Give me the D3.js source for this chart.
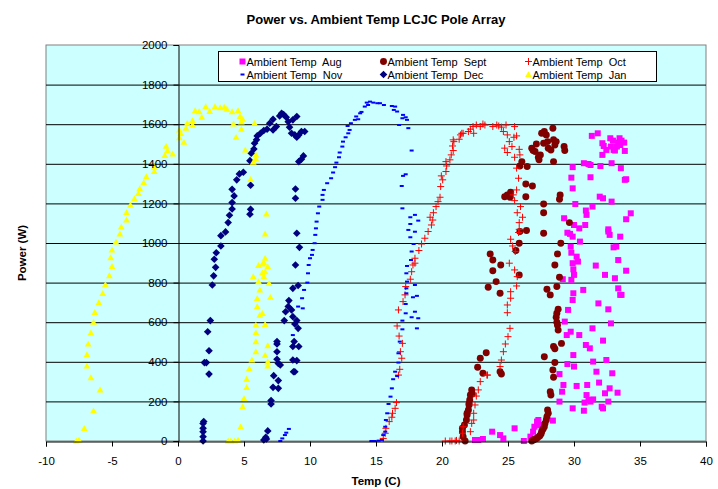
<!DOCTYPE html>
<html>
<head>
<meta charset="utf-8">
<script src="https://cdn.jsdelivr.net/npm/d3@7"></script>
<style>
  body { margin: 0; background: #fff; }
  text { font-family: "Liberation Sans", Arial, sans-serif; }
</style>
</head>
<body>
<div id="chart"></div>
<script>
// [temp C, power W]
var aug = [[22.5,5],[22.75,5],[23.1,10],[23.8,47],[24.4,30],[24.65,13],[25.5,64],[26.2,0],[26.7,22],[26.9,47],[27.0,72],[27.2,98],[27.3,106],[27.4,81],[27.55,64],[28.4,103],[28.9,199],[29.1,249],[29.2,283],[28.9,338],[29.5,389],[30.0,376],[29.95,434],[29.9,165],[30.75,153],[30.8,194],[30.95,232],[31.0,283],[31.1,207],[31.25,199],[31.45,210],[31.9,295],[31.7,350],[32.1,173],[32.2,165],[32.35,241],[32.45,409],[32.6,199],[32.7,266],[32.9,342],[33.3,244],[31.45,401],[30.2,278],
  [29.45,535],[29.75,552],[30.4,535],[30.9,485],[31.2,468],[31.4,569],[32.2,507],[32.8,594],[32.6,665],[31.85,695],[30.7,763],[29.95,746],[29.9,712],[29.55,662],[29.3,603],[29.15,817],[29.8,814],[30.0,839],[29.95,867],[29.9,898],[30.3,906],[30.2,931],[29.8,951],[29.75,982],[30.45,1007],[29.9,1032],[29.7,1046],[29.5,1052],[30.4,1074],[30.0,1091],[29.25,1125],[30.85,1091],[30.95,1142],[30.9,1164],[31.4,1184],[30.1,1197],[31.65,886],[32.35,839],[33.1,822],[33.35,771],[33.5,738],[33.6,738],[33.35,914],[33.2,982],[33.0,978],[33.95,860],[33.5,1032],[32.6,1058],[32.7,1041],[32.6,1069],[32.85,1209],[31.95,1234],[32.2,1226],[33.95,1120],[34.3,1150],[29.9,1276],[31.25,1332],[29.8,1330],[29.9,1383],[30.75,1403],[31.1,1399],[31.25,1394],[32.0,1389],[32.85,1403],[33.55,1378],[33.85,1319],[33.95,1322],[31.35,1541],[31.8,1554],[32.15,1504],[32.25,1490],[32.15,1445],[32.45,1470],[32.75,1529],[32.95,1517],[32.8,1487],[33.0,1470],[33.25,1487],[33.35,1507],[33.45,1529],[33.6,1517],[33.8,1507],[33.85,1465],[33.1,1467],[33.5,1495]];

var sept = [[21.75,0],[21.6,22],[21.55,47],[21.55,64],[21.7,81],[21.85,106],[21.9,131],[22.0,157],[22.05,182],[22.1,207],[22.15,232],[22.25,258],[22.05,190],[21.9,140],[22.3,237],
  [22.7,372],[22.9,418],[23.1,342],[23.35,446],[23.5,776],[23.65,945],[23.85,914],[23.85,860],[24.1,805],[24.4,746],[24.45,889],[24.5,338],[24.4,350],
  [24.75,1234],[24.95,1243],[25.15,1231],[25.2,1256],[25.85,839],[25.85,999],[25.6,962],[25.9,1058],[26.05,1411],[25.9,1389],[26.45,1386],[26.35,1298],[26.85,1288],[26.35,1234],[26.4,1063],
  [26.8,1479],[26.9,1467],[27.05,1462],[27.15,1500],[27.35,1420],[27.3,1433],[27.45,1445],[27.55,1554],[27.75,1563],[27.9,1546],[27.7,1504],[28.0,1512],[28.05,1479],[28.25,1470],[28.4,1580],[28.45,1521],[28.55,1495],[28.65,1512],[28.45,1411],[29.25,1487],[29.3,1467],[27.7,1197],[27.7,1153],[27.7,1049],[28.95,1243],[28.9,1221],[29.65,1103],[29.0,999],[28.75,945],[28.55,889],[28.9,827],[28.7,780],[27.95,766],[28.2,738],[28.8,665],[28.7,645],[28.65,625],[28.75,585],[28.8,560],[28.7,600],[29.05,493],[28.45,477],[28.55,466],[28.55,396],[27.75,426],[28.4,359],[28.45,322],[28.2,249],[28.25,232],
  [28.0,157],[28.05,140],[27.95,123],[27.9,106],[27.8,89],[27.75,72],[27.65,59],[27.55,47],[27.5,35],[27.4,25],[27.25,18],[27.15,13],[27.0,8],[26.9,5],[26.8,0]];

var oct = [[15.55,13],[15.7,39],[15.75,64],[16.0,98],[16.2,120],[16.25,140],[16.45,165],[16.55,194],[16.7,333],[16.8,362],[16.95,418],[16.85,451],[17.0,493],[16.75,530],[16.6,581],[16.7,662],[17.05,704],[17.2,738],[17.25,780],[17.6,817],[17.7,855],[17.8,889],[17.95,898],[17.95,923],[18.25,962],[18.45,995],[18.7,1024],[18.95,1058],[19.2,1091],[19.3,1116],[19.1,1130],[19.35,1153],[19.55,1184],[19.7,1209],[19.85,1231],[19.9,1285],[20.05,1319],[19.95,1339],[20.3,1361],[20.35,1389],[20.3,1411],[20.6,1420],[20.7,1445],[20.85,1467],[20.8,1490],[20.9,1512],[20.85,1521],[21.3,1524],[21.4,1546],[21.5,1554],[21.6,1554],[22.0,1563],[22.15,1575],[22.4,1554],[22.35,1588],[22.6,1596],[22.9,1588],[23.1,1601],[23.25,1596],[23.85,1588],[24.15,1596],[24.3,1591],[24.5,1585],[24.85,1596],[24.65,1563],[24.95,1546],[25.5,1588],[25.65,1541],[25.45,1534],[25.1,1512],[25.3,1487],[24.75,1479],[25.85,1473],[24.95,1457],[25.5,1433],[25.9,1445],[25.65,1378],[25.8,1327],[25.65,1268],[25.4,1243],[25.5,1214],[25.95,1184],[25.7,1153],[26.1,1130],[25.85,1103],[25.85,1069],[25.8,1053],[25.2,1019],[25.35,985],[25.55,957],[25.1,898],[25.5,864],[25.7,830],[25.65,783],[25.2,754],[25.2,721],[24.95,687],[24.95,648],[25.15,569],[25.0,527],[24.8,490],[24.65,451],[24.5,409],[24.4,376],[23.45,333],[23.4,333],[22.9,300],[22.75,258],[22.6,227],[22.5,182],[22.4,140],[22.4,106],[22.25,89],[22.15,47],[21.6,72],[21.55,39],[21.3,0],[21.0,0],[20.75,0],[20.6,0],[20.25,0],[21.1,3]];

var nov = [[7.75,0],[7.9,13],[8.1,30],[8.2,42],[8.4,61],[8.7,535],[9.1,679],[9.4,721],[9.45,670],[9.55,763],[9.8,800],[9.85,847],[9.9,889],[10.0,923],[10.15,940],[10.2,965],[10.35,999],[10.4,1041],[10.45,1074],[10.5,1108],[10.6,1150],[10.7,1184],[10.95,1218],[10.95,1243],[11.05,1268],[11.3,1302],[11.6,1327],[11.75,1356],[11.9,1383],[12.0,1406],[12.2,1433],[12.25,1457],[12.45,1487],[12.5,1512],[12.7,1534],[12.9,1554],[13.0,1571],[12.85,1591],[13.1,1605],[13.4,1622],[13.65,1625],[13.5,1639],[13.8,1655],[13.9,1662],[14.15,1689],[14.4,1697],[14.3,1709],[14.55,1714],[14.8,1709],[15.1,1706],[15.3,1706],[15.6,1697],[16.2,1692],[16.45,1689],[16.35,1672],[16.6,1664],[17.05,1647],[17.0,1630],[17.25,1635],[17.35,1622],[16.75,1596],[17.45,1580],[17.7,1467],[17.25,1347],[17.05,1339],[16.95,1288],[17.0,1175],[17.6,1130],[17.95,1142],[18.2,1113],[17.6,1096],[17.95,1057],[17.45,1066],[17.6,1029],[17.85,995],[17.7,957],[17.65,914],[17.35,884],[17.3,847],[17.35,805],[17.95,788],[17.3,771],[17.3,746],[17.8,726],[18.1,733],[17.25,692],[17.95,653],[17.25,645],[17.7,625],[18.2,620],[17.0,608],[17.0,564],[18.1,569],[16.8,502],[16.7,443],[16.7,396],[16.45,350],[16.6,328],[16.3,312],[16.2,266],[16.1,224],[15.95,187],[15.85,140],[15.75,106],[15.7,72],[15.55,30],[15.7,47],[14.65,0],[14.9,0],[15.2,2],[15.45,5]];

var dec = [[1.9,0],[1.9,22],[1.9,47],[1.9,64],[1.9,89],[1.95,98],[2.0,396],[2.15,396],[2.35,338],[2.25,552],[2.35,456],[2.45,608],[2.6,788],[2.7,834],[2.85,877],[2.75,918],[2.9,951],[3.25,985],[3.25,1037],[3.6,1056],[3.8,1103],[3.9,1140],[4.1,1172],[4.1,1204],[4.25,1238],[4.1,1271],[4.45,1319],[4.65,1349],[4.95,1357],[5.5,1292],[5.5,1170],[5.45,1145],[5.45,1416],[5.55,1453],[5.75,1475],[5.8,1504],[5.95,1521],[6.0,1541],[6.25,1554],[6.5,1568],[6.75,1575],[6.95,1605],[7.2,1625],[7.2,1571],[7.45,1588],[7.7,1642],[7.85,1655],[8.0,1649],[8.2,1635],[8.35,1613],[8.45,1585],[8.6,1554],[8.7,1622],[8.85,1546],[9.0,1639],[9.0,1534],[9.15,1546],[9.35,1563],[9.6,1563],[9.15,1411],[9.35,1423],[9.5,1440],[8.9,1273],[8.9,1226],[9.0,1049],[9.2,978],[8.9,889],[9.1,785],[8.7,771],[8.4,709],[8.35,679],[8.15,653],[8.05,608],[8.6,662],[8.7,628],[8.85,591],[9.0,608],[9.1,569],[8.8,502],[8.7,477],[9.15,477],[8.7,409],[9.0,406],[8.75,350],[8.85,350],[7.5,502],[7.5,490],[7.5,451],[7.5,413],[7.6,392],[7.75,384],[7.25,330],[7.2,271],[7.6,266],[7.6,305],[7.05,204],[7.05,187],[6.8,51],[6.65,19],[6.5,5],[6.7,10]];

var jan = [[-7.7,0],[-7.5,5],[-7.1,64],[-6.4,153],[-5.9,258],[-6.6,320],[-6.9,379],[-6.9,436],[-6.8,490],[-6.6,546],[-6.4,600],[-6.3,650],[-6.0,699],[-5.7,746],[-5.5,790],[-5.2,835],[-5.0,882],[-5.1,926],[-5.0,965],[-4.7,1005],[-4.4,1046],[-4.3,1081],[-3.9,1117],[-3.9,1154],[-3.6,1192],[-3.3,1224],[-3.0,1251],[-2.9,1275],[-2.6,1305],[-2.4,1335],[-1.8,1361],[-1.8,1383],[-1.0,1443],[-0.8,1467],[-0.9,1489],[-0.4,1450],[0.1,1532],[0.2,1554],[0.1,1571],[0.45,1509],[0.6,1580],[0.7,1605],[1.1,1596],[1.1,1618],[1.3,1669],[1.6,1664],[1.8,1635],[2.1,1689],[2.4,1665],[2.8,1689],[3.2,1684],[3.5,1686],[3.7,1676],[4.1,1664],[4.2,1601],[4.55,1669],[4.7,1639],[4.8,1612],[4.8,1575],[4.9,1626],[4.4,1534],[5.8,1605],[5.1,1470],[5.9,1445],[5.9,1425],[5.7,1408],[5.5,1322],[6.7,1147],[6.6,1046],[6.6,923],[6.5,901],[6.4,894],[6.1,887],[5.7,830],[6.8,880],[6.4,850],[6.5,830],[6.1,805],[6.6,855],[6.9,797],[6.2,763],[6.0,720],[7.0,726],[6.0,679],[6.2,636],[6.4,645],[5.9,586],[6.6,589],[5.9,547],[5.9,502],[6.8,482],[5.9,451],[6.6,433],[6.8,400],[6.8,379],[5.6,409],[5.4,365],[5.2,313],[5.2,271],[5.0,215],[4.9,173],[4.75,72],[3.8,0],[4.0,0],[4.3,0],[4.55,5]];

var seriesNames = ["Ambient Temp  Aug", "Ambient Temp  Sept", "Ambient Temp  Oct",
                   "Ambient Temp  Nov", "Ambient Temp  Dec", "Ambient Temp  Jan"];
var seriesData = [aug, sept, oct, nov, dec, jan];
var yTicks = [0, 200, 400, 600, 800, 1000, 1200, 1400, 1600, 1800, 2000];
var xTicks = [-10, -5, 0, 5, 10, 15, 20, 25, 30, 35, 40];

var margin = { top: 45, right: 12, bottom: 48, left: 46 };
var width = 718 - margin.left - margin.right;
var height = 489 - margin.top - margin.bottom;

// marker shapes, excel style
var plus = { draw: function(c, s) { var r = 3.5; c.moveTo(-r, 0); c.lineTo(r, 0); c.moveTo(0, -r); c.lineTo(0, r); } };
var dash = { draw: function(c, s) { c.rect(-2, -1, 4, 2); } };
var diamond = { draw: function(c, s) { var r = 3.8; c.moveTo(0, -r); c.lineTo(r, 0); c.lineTo(0, r); c.lineTo(-r, 0); c.closePath(); } };
var tri = { draw: function(c, s) { c.moveTo(0, -3.3); c.lineTo(3.4, 2.6); c.lineTo(-3.4, 2.6); c.closePath(); } };

var styles = [
  { type: d3.symbolSquare, size: 36, fill: "#FF00FF", stroke: "none" },
  { type: d3.symbolCircle, size: 38, fill: "#800000", stroke: "none" },
  { type: plus, size: 0, fill: "none", stroke: "#FF0000" },
  { type: dash, size: 0, fill: "#0000FF", stroke: "none" },
  { type: diamond, size: 0, fill: "#000080", stroke: "none" },
  { type: tri, size: 0, fill: "#FFFF00", stroke: "none" }
];

var svg = d3.select("#chart")
    .append("svg")
    .attr("width", 718)
    .attr("height", 489);

var g = svg.append("g")
    .attr("transform", "translate(" + margin.left + "," + margin.top + ")");

var x = d3.scaleLinear().domain([-10, 40]).range([0, width]);
var y = d3.scaleLinear().domain([0, 2000]).range([height, 0]);

// plot area
g.append("rect")
    .attr("width", width)
    .attr("height", height)
    .attr("fill", "#CCFFFF")
    .attr("stroke", "#808080");

// gridlines
g.append("g")
    .selectAll("line")
    .data(yTicks.slice(1, -1))
    .enter()
    .append("line")
    .attr("x1", 0)
    .attr("x2", width)
    .attr("y1", d => y(d) + 0.5)
    .attr("y2", d => y(d) + 0.5)
    .attr("stroke", "#000")
    .attr("stroke-width", 1);

// series
seriesData.forEach(function(data, i) {
    var st = styles[i];
    var sym = d3.symbol().type(st.type).size(st.size);
    g.append("g")
        .selectAll("path")
        .data(data)
        .enter()
        .append("path")
        .attr("d", sym)
        .attr("transform", d => "translate(" + x(d[0]) + "," + y(d[1]) + ")")
        .attr("fill", st.fill)
        .attr("stroke", st.stroke)
        .attr("stroke-width", 1);
});

// Y axis sits at x = 0
var yAxis = g.append("g")
    .attr("transform", "translate(" + (Math.round(x(0)) + 0.5) + ",0)")
    .call(d3.axisLeft(y).tickValues(yTicks).tickSize(5).tickPadding(6).tickFormat(d3.format("d")));

// X axis at y = 0
var xAxis = g.append("g")
    .attr("transform", "translate(0," + (height + 0.5) + ")")
    .call(d3.axisBottom(x).tickValues(xTicks).tickSize(5).tickPadding(10).tickFormat(d3.format("d")));

[yAxis, xAxis].forEach(function(a) {
    a.select(".domain").attr("stroke", "#000");
    a.selectAll(".tick line").attr("stroke", "#000");
    a.selectAll("text")
        .style("font-family", "'Liberation Sans', Arial, sans-serif")
        .style("font-size", "11.5px")
        .attr("fill", "#000");
});
xAxis.selectAll("text").text(d => d < 0 ? "-" + Math.abs(d) : d);

// title
svg.append("text")
    .attr("x", margin.left + width / 2)
    .attr("y", 24)
    .attr("text-anchor", "middle")
    .style("font-size", "13px")
    .style("font-weight", "bold")
    .text("Power vs. Ambient Temp LCJC Pole Array");

// X label
svg.append("text")
    .attr("x", margin.left + width / 2)
    .attr("y", 485)
    .attr("text-anchor", "middle")
    .style("font-size", "11.5px")
    .style("font-weight", "bold")
    .text("Temp (C)");

// Y label
svg.append("text")
    .attr("transform", "translate(26,253) rotate(-90)")
    .attr("text-anchor", "middle")
    .style("font-size", "11.5px")
    .style("font-weight", "bold")
    .text("Power (W)");

// legend
var legend = svg.append("g").attr("transform", "translate(218.5,51.5)");
legend.append("rect")
    .attr("width", 438)
    .attr("height", 30)
    .attr("fill", "#fff")
    .attr("stroke", "#000");

var colX = [24, 165, 310];
var rowY = [10, 23];
seriesNames.forEach(function(name, i) {
    var st = styles[i];
    var cx = colX[i % 3], cy = rowY[Math.floor(i / 3)];
    legend.append("path")
        .attr("d", d3.symbol().type(st.type).size(st.size))
        .attr("transform", "translate(" + cx + "," + cy + ")")
        .attr("fill", st.fill)
        .attr("stroke", st.stroke);
    legend.append("text")
        .attr("x", cx + 4)
        .attr("y", cy + 4)
        .style("font-size", "11px")
        .style("white-space", "pre")
        .text(name);
});
</script>
</body>
</html>
